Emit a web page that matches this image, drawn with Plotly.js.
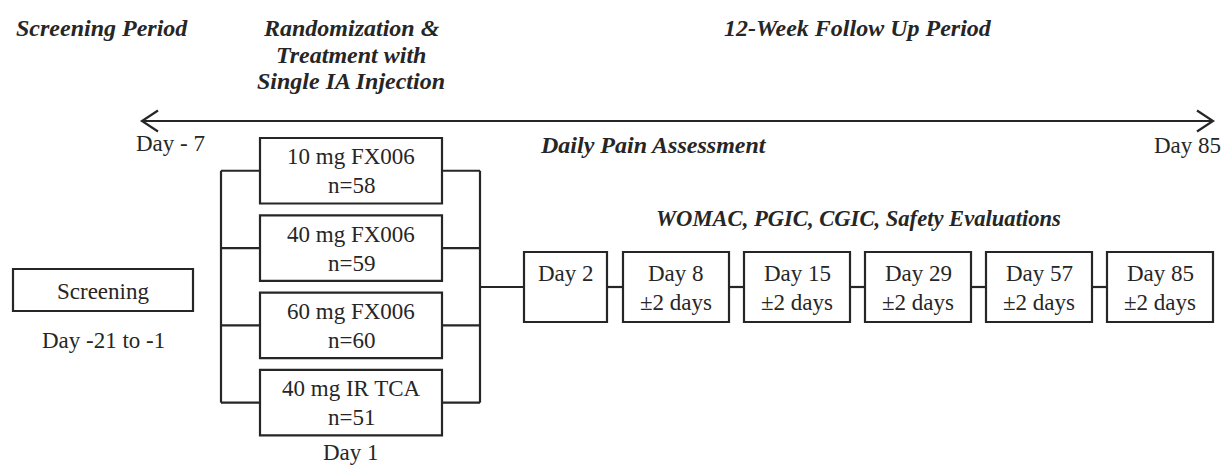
<!DOCTYPE html>
<html>
<head>
<meta charset="utf-8">
<script src="https://cdn.plot.ly/plotly-3.0.1.min.js"></script>
<style>html,body{margin:0;padding:0;background:#fff;}#chart{width:1229px;height:466px;}</style>
</head>
<body>
<div id="chart"></div>
<script>
// ---- Data ----
const periodTitles = ['Screening Period', 'Randomization &<br>Treatment with<br>Single IA Injection', '12-Week Follow Up Period'];
const timelineStart = 'Day - 7';
const timelineEnd = 'Day 85';
const timelineLabel = 'Daily Pain Assessment';
const screeningLabel = 'Screening';
const screeningWindow = 'Day -21 to -1';
const armLabels = ['10 mg FX006', '40 mg FX006', '60 mg FX006', '40 mg IR TCA'];
const armN = [58, 59, 60, 51];
const treatmentDay = 'Day 1';
const visitDays = [2, 8, 15, 29, 57, 85];
const visitWindowDays = [0, 2, 2, 2, 2, 2];
const visitHeader = 'WOMAC, PGIC, CGIC, Safety Evaluations';

// ---- Layout constants ----
const W = 1229, H = 466;
const INK = '#262626';
const LW = 2.2;
const FONT = 'Liberation Serif';
const FS = 23;
const FSB = 24;

const shapes = [];
const ann = [];
function rect(x0, y0, x1, y1) {
  shapes.push({type: 'rect', xref: 'x', yref: 'y', x0, y0, x1, y1, line: {color: INK, width: LW}, fillcolor: 'rgba(0,0,0,0)'});
}
function line(x0, y0, x1, y1) {
  shapes.push({type: 'line', xref: 'x', yref: 'y', x0, y0, x1, y1, line: {color: INK, width: LW}});
}
function path(d) {
  shapes.push({type: 'path', xref: 'x', yref: 'y', path: d, line: {color: INK, width: LW}});
}
function text(t, x, y, size) {
  ann.push({
    text: t, x, y, xref: 'x', yref: 'y', showarrow: false,
    xanchor: 'center', yanchor: 'middle', borderpad: 0,
    font: {family: FONT, size: size || FS, color: INK}
  });
}
function bi(t, x, y, size) { text('<b><i>' + t + '</i></b>', x, y, size || FSB); }

// Period titles
bi(periodTitles[0], 102, 28);
const randLines = periodTitles[1].split('<br>');
randLines.forEach((l, i) => bi(l, 351, 28 + i * 26.5));
bi(periodTitles[2], 858, 28);

// Timeline arrow
const ay = 121, ax0 = 142, ax1 = 1213;
line(ax0, ay, ax1, ay);
path(`M ${ax0 + 16},${ay - 10.5} L ${ax0},${ay} L ${ax0 + 16},${ay + 10.5}`);
path(`M ${ax1 - 16},${ay - 10.5} L ${ax1},${ay} L ${ax1 - 16},${ay + 10.5}`);
text(timelineStart, 170, 143);
text(timelineEnd, 1187, 145);
bi(timelineLabel, 653, 145);

// Screening box
rect(13, 269, 193, 311);
text(screeningLabel, 103, 291);
text(screeningWindow, 103, 340);

// Treatment arms
const armX0 = 260, armX1 = 442, armTop = 138, armPitch = 77.3, armH = 65.5;
const brL = 221, brR = 480;
const mids = [];
armLabels.forEach((lab, i) => {
  const y0 = armTop + i * armPitch, y1 = y0 + armH, ym = (y0 + y1) / 2;
  mids.push(ym);
  rect(armX0, y0, armX1, y1);
  text(lab, (armX0 + armX1) / 2, ym - 14);
  text('n=' + armN[i], (armX0 + armX1) / 2, ym + 15);
  line(brL, ym, armX0, ym);
  line(armX1, ym, brR, ym);
});
line(brL, mids[0], brL, mids[mids.length - 1]);
line(brR, mids[0], brR, mids[mids.length - 1]);
text(treatmentDay, 351, 452);

// Visit boxes
const vy0 = 252, vy1 = 322, vym = (vy0 + vy1) / 2;
bi(visitHeader, 858, 218, 22.6);
const vx = [];
let x = 524;
visitDays.forEach((d, i) => {
  const w = visitWindowDays[i] ? 106 : 83;
  vx.push([x, x + w]);
  x += w + (i === 0 ? 16 : 15);
});
line(brR, vym, vx[0][0], vym);
visitDays.forEach((d, i) => {
  const [x0, x1] = vx[i];
  rect(x0, vy0, x1, vy1);
  const cx = (x0 + x1) / 2;
  text('Day ' + d, cx, vy0 + 21);
  if (visitWindowDays[i]) text('±' + visitWindowDays[i] + ' days', cx, vy0 + 50);
  if (i > 0) line(vx[i - 1][1], vym, x0, vym);
});

const layout = {
  width: W, height: H,
  margin: {l: 0, r: 0, t: 0, b: 0, pad: 0},
  font: {family: FONT, size: FS, color: INK},
  paper_bgcolor: '#fff', plot_bgcolor: '#fff',
  xaxis: {range: [0, W], visible: false, fixedrange: true},
  yaxis: {range: [H, 0], visible: false, fixedrange: true},
  showlegend: false,
  shapes, annotations: ann
};
Plotly.newPlot('chart', [], layout, {staticPlot: true, displayModeBar: false});
</script>
</body>
</html>
